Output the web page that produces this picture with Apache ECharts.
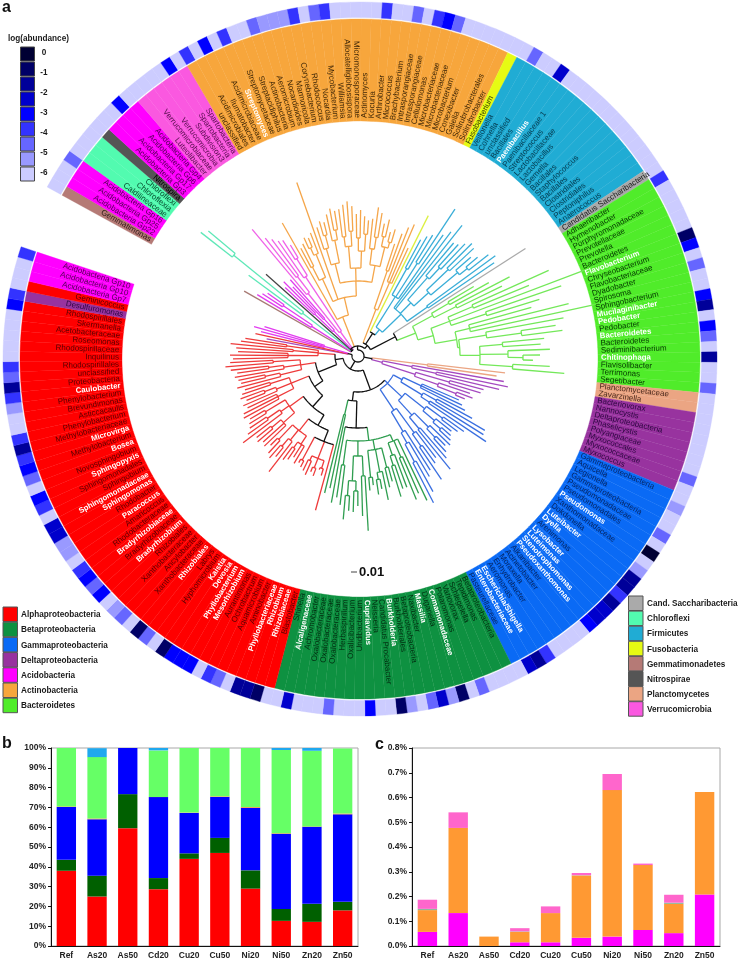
<!DOCTYPE html>
<html><head><meta charset="utf-8">
<style>html,body{margin:0;padding:0;background:#fff}#c{width:740px;height:960px}</style>
<script src="https://cdn.jsdelivr.net/npm/echarts@6/dist/echarts.min.js"></script>
</head><body><div id="c"></div>
<script>
// ---------- taxa, clockwise from the gap in the circle ----------
const gemmatimonadetesTaxa=['Gemmatimonas'];
const acidobacteriaTaxaA=['Acidobacteria Gp22','Acidobacteria Gp25','Acidobacteria Gp16'];
const chloroflexiTaxa=['Caldilineaceae','Chloroflexia','Chloroflexi'];
const nitrospiraeTaxa=['Nitrospira'];
const acidobacteriaTaxaB=['Acidobacteria Gp3','Acidobacteria Gp17','Acidobacteria Gp6','Acidobacteria Gp4'];
const verrucomicrobiaTaxa=['Luteolibacter','Verrucomicrobiaceae','Verrucomicrobia','Subdivision3','Spartobacteria','Spartobacteria'];
const actinobacteriaTaxa=['unclassified','Acidimicrobiales','Ilumatobacter','Acidimicrobiaceae','Streptomyces','Streptomycetaceae','Streptacidiphilus','Actinobacteria','Aeromicrobium','Nocardioides','Marmoricola','Corynebacterium','Rhodococcus','Nocardia','Mycobacterium','Williamsia','Allocatelliglobosispora','Micromonosporaceae','Actinomyces','Kocuria','Arthrobacter','Micrococcus','Brachybacterium','Intrasporangiaceae','Intrasporangiaceae','Cellulomonas','Microbacteriaceae','Microbacteriaceae','Microbacterium','Conexibacter','Gaiella','Solirubrobacterales','Solirubrobacter'];
const fusobacteriaTaxa=['Fusobacterium'];
const firmicutesTaxa=['Veillonella','Cohnella','unclassified','Bacillales','Paenibacillus','Paenibacillaceae 1','Streptococcus','Lactobacillaceae','Lactobacillus','Gemella','Bacillales','Staphylococcus','Bacillales','Clostridiales','Clostridiales','Peptoniphilus','Anaerococcus'];
const saccharibacteriaTaxa=['Candidatus Saccharibacteria'];
const bacteroidetesTaxa=['Adhaeribacter','Hymenobacter','Porphyromonadaceae','Prevotellaceae','Prevotella','Bacteroidetes','Flavobacterium','Chryseobacterium','Flavobacteriaceae','Dyadobacter','Spirosoma','Sphingobacterium','Mucilaginibacter','Pedobacter','Pedobacter','Bacteroidetes','Bacteroidetes','Sediminibacterium','Chitinophaga','Flavisolibacter','Terrimonas','Segetibacter'];
const planctomycetesTaxa=['Planctomycetaceae','Zavarzinella'];
const deltaTaxaA=['Bacteriovorax','Nannocystis','Deltaproteobacteria','Phaselicystis','Polyangiaceae','Myxococcales','Myxococcaceae','Myxococcus'];
const gammaTaxa=['Gammaproteobacteria','Aquicella','Legionella','Gammaproteobacteria','Pseudomonadaceae','Pseudomonadales','Pseudomonas','Xanthomonadaceae','Dokdonella','Luteibacter','Dyella','Arenimonas','Lysobacter','Luteimonas','Stenotrophomonas','Pseudoxanthomonas','Alkanibacter','Acinetobacter','Moraxella','Enhydrobacter','Aeromonas','Escherichia/Shigella','Enterobacteriaceae','Pasteurellaceae'];
const betaTaxa=['Betaproteobacteria','Tepidimonas','Schlegelella','Variovorax','Polaromonas','Comamonadaceae','Duganella','Massilia','Naxibacter','Betaproteobacteria','Burkholderiales','Burkholderia','Candidatus Procabacter','Neisseria','Cupriavidus','Undibacterium','Oxalicibacterium','Herbaspirillum','Oxalobacteraceae','Oxalobacteraceae','Oxalobacteraceae','Achromobacter','Alcaligenaceae','Shinella'];
const alphaTaxaA=['Blastobacter','Rhizobiaceae','Rhizobium','Phyllobacteriaceae','Aminobacter','Aquamicrobium','Ochrobactrum','Aurantimonas','Mesorhizobium','Phyllobacterium','Devosia','Kaistia','Hyphomicrobium','Labrys','Rhizobiales','Xanthobacteraceae','Ancylobacter','Xanthobacteraceae','Rhizobiales','Bradyrhizobium','Bradyrhizobiaceae','Bradyrhizobiaceae','Rhodobacteraceae','Amaricoccus','Paracoccus','Rhodobacter','Sphingomonas','Sphingomonadaceae','Sphingobium','Sphingomonadales','Sphingopyxis','Novosphingobium','Bosea','Methylobacterium','Microvirga','Methylobacteriaceae','Phenylobacterium','Asticcacaulis','Brevundimonas','Phenylobacterium','Caulobacter','Proteobacteria','unclassified','Rhodospirillales','Inquilinus','Rhodospirillaceae','Roseomonas','Acetobacteraceae','Skermanella','Rhodospirillales'];
const deltaTaxaB=['Desulfuromonas'];
const alphaTaxaB=['Geminicoccus'];
const acidobacteriaTaxaC=['Acidobacteria Gp7','Acidobacteria Gp10','Acidobacteria Gp10'];
const sections=[['Gemmatimonadetes',gemmatimonadetesTaxa],['Acidobacteria',acidobacteriaTaxaA],['Chloroflexi',chloroflexiTaxa],['Nitrospirae',nitrospiraeTaxa],['Acidobacteria',acidobacteriaTaxaB],['Verrucomicrobia',verrucomicrobiaTaxa],['Actinobacteria',actinobacteriaTaxa],['Fusobacteria',fusobacteriaTaxa],['Firmicutes',firmicutesTaxa],['Cand. Saccharibacteria',saccharibacteriaTaxa],['Bacteroidetes',bacteroidetesTaxa],['Planctomycetes',planctomycetesTaxa],['Deltaproteobacteria',deltaTaxaA],['Gammaproteobacteria',gammaTaxa],['Betaproteobacteria',betaTaxa],['Alphaproteobacteria',alphaTaxaA],['Deltaproteobacteria',deltaTaxaB],['Alphaproteobacteria',alphaTaxaB],['Acidobacteria',acidobacteriaTaxaC]];
// leaves whose name is picked out in white
const highlightedLeaves=[22,56,76,82,83,85,88,108,111,112,114,115,116,117,123,124,131,133,137,140,148,151,152,153,158,159,160,161,164,169,171,174,176,177,180,182,184,190];
// abundance bins (0 darkest ... 8 lowest); leaves not listed are in bin 8: [leaf, bin]
const abundanceBins=[[3,6],[10,4],[16,4],[18,5],[20,4],[22,5],[25,6],[26,7],[27,7],[28,7],[29,5],[31,6],[32,5],[38,5],[41,6],[43,5],[44,4],[45,6],[53,6],[56,3],[70,5],[76,1],[77,4],[79,6],[82,4],[83,2],[85,4],[86,6],[88,2],[91,6],[100,6],[103,7],[106,6],[108,0],[110,7],[111,2],[112,2],[113,5],[114,2],[115,3],[116,3],[117,4],[122,5],[123,2],[124,3],[129,6],[131,1],[132,7],[133,3],[134,6],[136,7],[137,1],[140,4],[144,6],[148,3],[151,1],[152,2],[153,2],[155,6],[156,5],[158,4],[159,4],[160,4],[161,1],[163,6],[164,1],[166,6],[167,7],[169,4],[170,6],[171,4],[172,5],[174,7],[175,7],[176,3],[177,3],[179,5],[180,4],[182,6],[183,4],[184,5],[185,2],[186,5],[189,7],[190,5],[191,2],[192,6],[193,5],[199,4],[200,5],[204,5]];
const abundanceTicks=['0','-1','-2','-3','-4','-5','-6'];

// ---------- phylogeny: K/N(node distance from centre, ...children); a number is a leaf tip distance ----------
const N=(r,...c)=>({r,c}), K=(r,...c)=>({r,c,k:1});
const cladeAcidoA=N(55,118,N(90,114,110));
const cladeChloro=N(70,136,N(160,200,195));
const cladeAcidoB=N(35,N(60,100,105),N(50,95,102));
const cladeVerruco=N(30,N(80,165,N(100,150,145)),N(95,140,N(115,138,130)));
const cladeActinoMain=N(18,N(42,153,N(60,N(85,N(100,122,125),N(110,N(118,130,128),132)),184,N(75,N(95,N(112,135,N(125,140,138)),N(118,145,N(128,150,147))),N(88,N(110,N(120,148,152),N(125,155,150)),N(105,N(118,142,146),N(122,140,136))),N(92,N(108,138,N(120,150,145)),N(112,N(122,135,140),N(118,128,132)))))));
const cladeActinoRight=N(17,N(50,N(90,118,130),N(80,138,143,119)));
const cladeFirmicutes=N(34,N(70,N(100,132,138),N(110,142,176),148),N(60,155,167,N(75,N(105,148,N(120,150,155)),N(95,N(125,160,158),N(130,150,N(140,155,165)))),N(85,170,165)));
const cladeBacteroidetes=N(62,N(85,N(105,135,150),N(110,171,160)),N(78,N(98,N(125,209,185),241,N(135,215,190)),N(100,N(115,180,217,241),N(102,N(130,209,N(165,200,206)),N(122,N(145,187,183),N(150,192,N(165,182,175)),N(155,192,207))))));
const cladePlancto=N(70,148,140);
const cladeDelta=N(25,N(55,148,N(80,153,145)),N(60,N(95,130,128),N(85,118,N(105,122,115))));
const cladeGamma=N(40,N(50,N(70,110,115,120),N(75,N(90,130,147),N(85,148,154))),N(60,N(85,N(105,130,125),N(100,120,N(110,122,125))),N(80,N(100,128,N(112,125,130)),N(95,135,146))),N(65,N(95,128,N(110,132,149)),N(88,135,N(100,140,N(120,155,165)))));
const cladeBetaCore=N(85,N(92,160,N(110,150,155),N(105,140,N(115,140,147))),N(95,N(115,130,135),N(118,147,N(125,135,140)),N(122,130,135)),N(100,N(120,175,160),N(125,N(135,150,156),N(140,155,164))),N(110,150,143));
const cladeAlpha1=K(92,160,N(110,N(118,125,120),N(120,128,125),N(115,130,127)),N(118,125,122));
const cladeAlpha2=N(95,N(105,125,120,N(112,125,128)),N(108,146,N(118,130,135)),N(115,132,125));
const cladeAlpha3=N(85,N(100,130,128,N(112,132,130)),N(95,144,N(110,135,130)),N(108,128,125));
const cladeAlpha4=N(72,N(90,130,128,122),N(88,125,N(100,120,125)),N(92,122,118));
const cladeAlpha5=N(58,N(80,125,N(95,120,122)),N(75,125,N(90,122,128)),N(85,133,128));
const cladeAlpha6=N(40,N(70,125,128,120),N(65,122,128),N(72,118,114));
const treeRoot=K(6,
  K(10,K(8,131,cladeAcidoA,cladeChloro,123,cladeAcidoB,cladeVerruco),cladeActinoMain,
    K(14,cladeActinoRight,K(27,157,cladeFirmicutes),K(42,199,cladeBacteroidetes))),
  K(14,cladePlancto,cladeDelta),
  K(15,K(36,cladeGamma,K(45,K(72,cladeBetaCore,149),N(60,135,141))),
    K(23,K(43,K(53,K(68,K(80,cladeAlpha1,cladeAlpha2),cladeAlpha3),cladeAlpha4),cladeAlpha5),cladeAlpha6)),
  K(10,93,105,N(35,100,108,98)));

// ---------- panels b and c ----------
const sampleNames=['Ref','As20','As50','Cd20','Cu20','Cu50','Ni20','Ni50','Zn20','Zn50'];
const barAlpha=[38,25,59.5,28.7,44,47,29,12.7,12.2,18];
const barBeta=[5.5,10.5,17.2,5.6,2.8,7.6,9.2,6,9.1,4.3];
const barGamma=[26.7,28.5,23.3,40.9,20.4,20.7,31.6,38,38.9,44.2];
const barRareSum=[0.3,0.4,0,0.1,0.2,0.3,0.4,0.3,0.2,0.4];
const barBacteroidetes=[29.5,31,0,23.5,32.6,24.4,29.8,42,38.2,32.9];
const barFirmicutes=[0,4.5,0,1.2,0,0,0,1,1.4,0];
const rareAcidobacteria=[0.057,0.133,0,0.015,0.015,0.033,0.038,0.065,0.052,0.208];
const rareActinobacteria=[0.088,0.344,0.038,0.042,0.118,0.252,0.592,0.262,0.118,0.414];
const rareChloroflexi=[0.005,0,0,0.002,0,0.001,0,0,0.005,0];
const rareVerrucomicrobia=[0.037,0.063,0,0.013,0.027,0.009,0.065,0.006,0.032,0];

// ---------- styles ----------
const wedgeColor={'Alphaproteobacteria':'#ff0000','Betaproteobacteria':'#0e9141','Gammaproteobacteria':'#0a6af5','Deltaproteobacteria':'#98339f','Acidobacteria':'#ff00ff','Actinobacteria':'#f7a63c','Bacteroidetes':'#50ec2a','Cand. Saccharibacteria':'#aaaaaa','Chloroflexi':'#52fbb0','Firmicutes':'#20acd4','Fusobacteria':'#e6fb13','Gemmatimonadetes':'#b57a76','Nitrospirae':'#555555','Planctomycetes':'#eba583','Verrucomicrobia':'#fa58e0'};
const inkColor={'Alphaproteobacteria':'#560000','Betaproteobacteria':'#022c10','Gammaproteobacteria':'#05245f','Deltaproteobacteria':'#2c0840','Acidobacteria':'#520052','Actinobacteria':'#3f2708','Bacteroidetes':'#053602','Cand. Saccharibacteria':'#1c1c1c','Chloroflexi':'#084a2e','Firmicutes':'#063a4e','Fusobacteria':'#3a4000','Gemmatimonadetes':'#2d1917','Nitrospirae':'#000000','Planctomycetes':'#47261a','Verrucomicrobia':'#560f4d'};
const branchColor={'Alphaproteobacteria':'#ee3b3b','Betaproteobacteria':'#2f9e50','Gammaproteobacteria':'#3a6fe0','Deltaproteobacteria':'#a54ac0','Acidobacteria':'#e23cf0','Actinobacteria':'#f5a64a','Bacteroidetes':'#74e85a','Cand. Saccharibacteria':'#aaaaaa','Chloroflexi':'#5fe8b8','Firmicutes':'#3aaed8','Fusobacteria':'#dcf040','Gemmatimonadetes':'#a87a74','Nitrospirae':'#444444','Planctomycetes':'#eba583','Verrucomicrobia':'#f060e8'};
const binColor=['#000033','#000066','#000099','#0000cc','#0000ff','#3333ff','#6666ff','#9999ff','#ccccff'];
const legendLeft=['Alphaproteobacteria','Betaproteobacteria','Gammaproteobacteria','Deltaproteobacteria','Acidobacteria','Actinobacteria','Bacteroidetes'];
const legendRight=['Cand. Saccharibacteria','Chloroflexi','Firmicutes','Fusobacteria','Gemmatimonadetes','Nitrospirae','Planctomycetes','Verrucomicrobia'];
const FF='"Liberation Sans",Arial,sans-serif';

// ---------- derived ----------
const leaves=[];
sections.forEach(([phylum,names])=>names.forEach(name=>leaves.push({name,phylum,bin:8})));
abundanceBins.forEach(([i,b])=>{leaves[i].bin=b;});
highlightedLeaves.forEach(i=>{leaves[i].white=true;});
const LEAF_DEG=1.705, START_DEG=151.2, SLOTS=360/LEAF_DEG;
const R_WEDGE_IN=238,R_WEDGE_OUT=340,R_RING_IN=341.5,R_RING_OUT=357,R_TEXT=241;

const branches=[]; let cursor=0;
function layout(node){
  if(typeof node==='number'){const i=cursor++;return{r:node,a:i+0.5,ph:new Set([leaves[i].phylum])};}
  const kids=node.c.map(layout), ph=new Set();
  kids.forEach(k=>k.ph.forEach(p=>ph.add(p)));
  const col=(!node.k&&ph.size===1)?branchColor[[...ph][0]]:'#111111';
  kids.forEach(k=>{
    const kc=k.col||branchColor[[...k.ph][0]];
    branches.push({pts:[[node.r,k.a],[k.r,k.a]],col:kc});
  });
  const a0=kids[0].a,a1=kids[kids.length-1].a,arc=[];
  for(let a=a0;a<a1;a+=1)arc.push([node.r,a]);
  arc.push([node.r,a1]);
  branches.push({pts:arc,col});
  return{r:node.r,a:(a0+a1)/2,ph,col};
}
layout(treeRoot);
if(cursor!==leaves.length)throw new Error('leaf mismatch '+cursor+' vs '+leaves.length);

function sectorShape(api,r0,r1,a0,a1){
  const c=api.coord([0,0]),p0=api.coord([r1,a0]),p1=api.coord([r1,a1]);
  return{cx:c[0],cy:c[1],r0:api.coord([r0,a0])[2],r:p0[2],
    startAngle:Math.atan2(p0[1]-c[1],p0[0]-c[0]),endAngle:Math.atan2(p1[1]-c[1],p1[0]-c[0]),clockwise:true};
}
const leafData=leaves.map((l,i)=>[R_WEDGE_OUT,i]);

const wedges={type:'custom',coordinateSystem:'polar',polarIndex:0,silent:true,data:leafData,encode:{radius:0,angle:1},
  renderItem:(p,api)=>{const i=api.value(1),col=wedgeColor[leaves[i].phylum];
    return{type:'sector',shape:sectorShape(api,R_WEDGE_IN,R_WEDGE_OUT,i,i+1),style:{fill:col,stroke:col,lineWidth:0.35}};}};
const ring={type:'custom',coordinateSystem:'polar',polarIndex:0,silent:true,data:leafData,encode:{radius:0,angle:1},
  renderItem:(p,api)=>{const i=api.value(1),col=binColor[leaves[i].bin];
    return{type:'sector',shape:sectorShape(api,R_RING_IN,R_RING_OUT,i,i+1),style:{fill:col,stroke:col,lineWidth:0.35}};}};
const labels={type:'custom',coordinateSystem:'polar',polarIndex:0,silent:true,z:5,data:leafData,encode:{radius:0,angle:1},
  renderItem:(p,api)=>{const i=api.value(1),l=leaves[i],c=api.coord([0,0]),q=api.coord([R_TEXT,i+0.5]);
    const th=Math.atan2(q[1]-c[1],q[0]-c[0]),right=Math.cos(th)>=0;
    return{type:'text',x:q[0],y:q[1],rotation:right?-th:Math.PI-th,
      style:{text:l.name,fill:l.white?'#ffffff':inkColor[l.phylum],font:(l.white?'bold 7.8px ':'8px ')+FF,
        align:right?'left':'right',verticalAlign:'middle'}};}};
const tree={type:'custom',coordinateSystem:'polar',polarIndex:1,silent:true,z:3,data:branches.map((b,i)=>[b.pts[0][0],b.pts[0][1],i]),encode:{radius:0,angle:1},
  renderItem:(p,api)=>{const b=branches[api.value(2)];
    return{type:'polyline',shape:{points:b.pts.map(x=>api.coord(x).slice(0,2))},style:{stroke:b.col,lineWidth:1.3,fill:'none'}};}};

function stackBar(name,data,color,g,st){return{type:'bar',name,data,stack:st,xAxisIndex:g,yAxisIndex:g,barWidth:'63%',silent:true,itemStyle:{color}};}
const axisFont={fontFamily:FF,fontWeight:'bold',fontSize:8.5,color:'#222'};

const gfx=[];
function txt(x,y,text,font,fill,align,vert){gfx.push({type:'text',x,y,silent:true,style:{text,font,fill:fill||'#1a1a1a',align:align||'left',verticalAlign:vert||'middle'}});}
txt(2,8,'a','bold 16px '+FF,'#111');txt(2,744,'b','bold 16px '+FF,'#111');txt(375,745,'c','bold 16px '+FF,'#111');
txt(8,39,'log(abundance)','bold 8.2px '+FF);
binColor.forEach((col,i)=>gfx.push({type:'rect',silent:true,shape:{x:20.5,y:47+i*15,width:14,height:14},style:{fill:col,stroke:'#444',lineWidth:1}}));
abundanceTicks.forEach((t,i)=>txt(44,53+i*20,t,'bold 8.2px '+FF,'#1a1a1a','center'));
legendLeft.forEach((n,i)=>{gfx.push({type:'rect',silent:true,shape:{x:3,y:607+i*15.2,width:14.5,height:14.5},style:{fill:wedgeColor[n],stroke:'#555',lineWidth:1}});txt(21,615+i*15.2,n,'bold 8.2px '+FF);});
legendRight.forEach((n,i)=>{gfx.push({type:'rect',silent:true,shape:{x:628.5,y:596+i*15.1,width:14.5,height:14.5},style:{fill:wedgeColor[n],stroke:'#555',lineWidth:1}});txt(647,604+i*15.1,n,'bold 8.2px '+FF);});
gfx.push({type:'line',silent:true,shape:{x1:351,y1:572,x2:357,y2:572},style:{stroke:'#444',lineWidth:1}});
txt(359,572,'0.01','bold 13px '+FF,'#111');

const hiddenRadius=i=>({polarIndex:i,type:'value',min:0,max:357,show:false});
const hiddenAngle=i=>({polarIndex:i,type:'value',min:0,max:SLOTS,startAngle:START_DEG,clockwise:true,show:false});
const option={animation:false,backgroundColor:'#fff',
  polar:[{center:[360,359],radius:[0,357]},{center:[358,356],radius:[0,357]}],
  radiusAxis:[hiddenRadius(0),hiddenRadius(1)],
  angleAxis:[hiddenAngle(0),hiddenAngle(1)],
  grid:[
    {left:51,width:307,top:748,height:199,show:true,borderColor:'#a8a8a8',borderWidth:1,backgroundColor:'transparent'},
    {left:412,width:308,top:748,height:199,show:true,borderColor:'#a8a8a8',borderWidth:1,backgroundColor:'transparent'}],
  xAxis:[0,1].map(g=>({gridIndex:g,type:'category',data:sampleNames,axisLabel:{...axisFont,margin:5,interval:0},axisTick:{show:false},axisLine:{lineStyle:{color:'#111',width:1}},splitLine:{show:false}})),
  yAxis:[
    {gridIndex:0,type:'value',min:0,max:100,interval:10,axisLabel:{...axisFont,margin:5,formatter:'{value}%'},axisTick:{show:true,length:3,lineStyle:{color:'#111'}},axisLine:{show:true,lineStyle:{color:'#111',width:1}},splitLine:{show:false}},
    {gridIndex:1,type:'value',min:0,max:0.8,interval:0.1,axisLabel:{...axisFont,margin:5,formatter:v=>v.toFixed(1)+'%'},axisTick:{show:true,length:3,lineStyle:{color:'#111'}},axisLine:{show:true,lineStyle:{color:'#111',width:1}},splitLine:{show:false}}],
  series:[wedges,ring,tree,labels,
    stackBar('Alphaproteobacteria',barAlpha,'#ff0000',0,'b'),
    stackBar('Betaproteobacteria',barBeta,'#006000',0,'b'),
    stackBar('Gammaproteobacteria',barGamma,'#0000ff',0,'b'),
    stackBar('Rare',barRareSum,'#ff9933',0,'b'),
    stackBar('Bacteroidetes',barBacteroidetes,'#66ff66',0,'b'),
    stackBar('Firmicutes',barFirmicutes,'#1fa8ee',0,'b'),
    stackBar('Acidobacteria',rareAcidobacteria,'#ff00ff',1,'c'),
    stackBar('Actinobacteria',rareActinobacteria,'#ff9933',1,'c'),
    stackBar('Chloroflexi',rareChloroflexi,'#8fb89a',1,'c'),
    stackBar('Verrucomicrobia',rareVerrucomicrobia,'#ff66cc',1,'c')],
  graphic:{elements:gfx}
};
echarts.init(document.getElementById('c'),null,{renderer:'canvas'}).setOption(option);
</script></body></html>
